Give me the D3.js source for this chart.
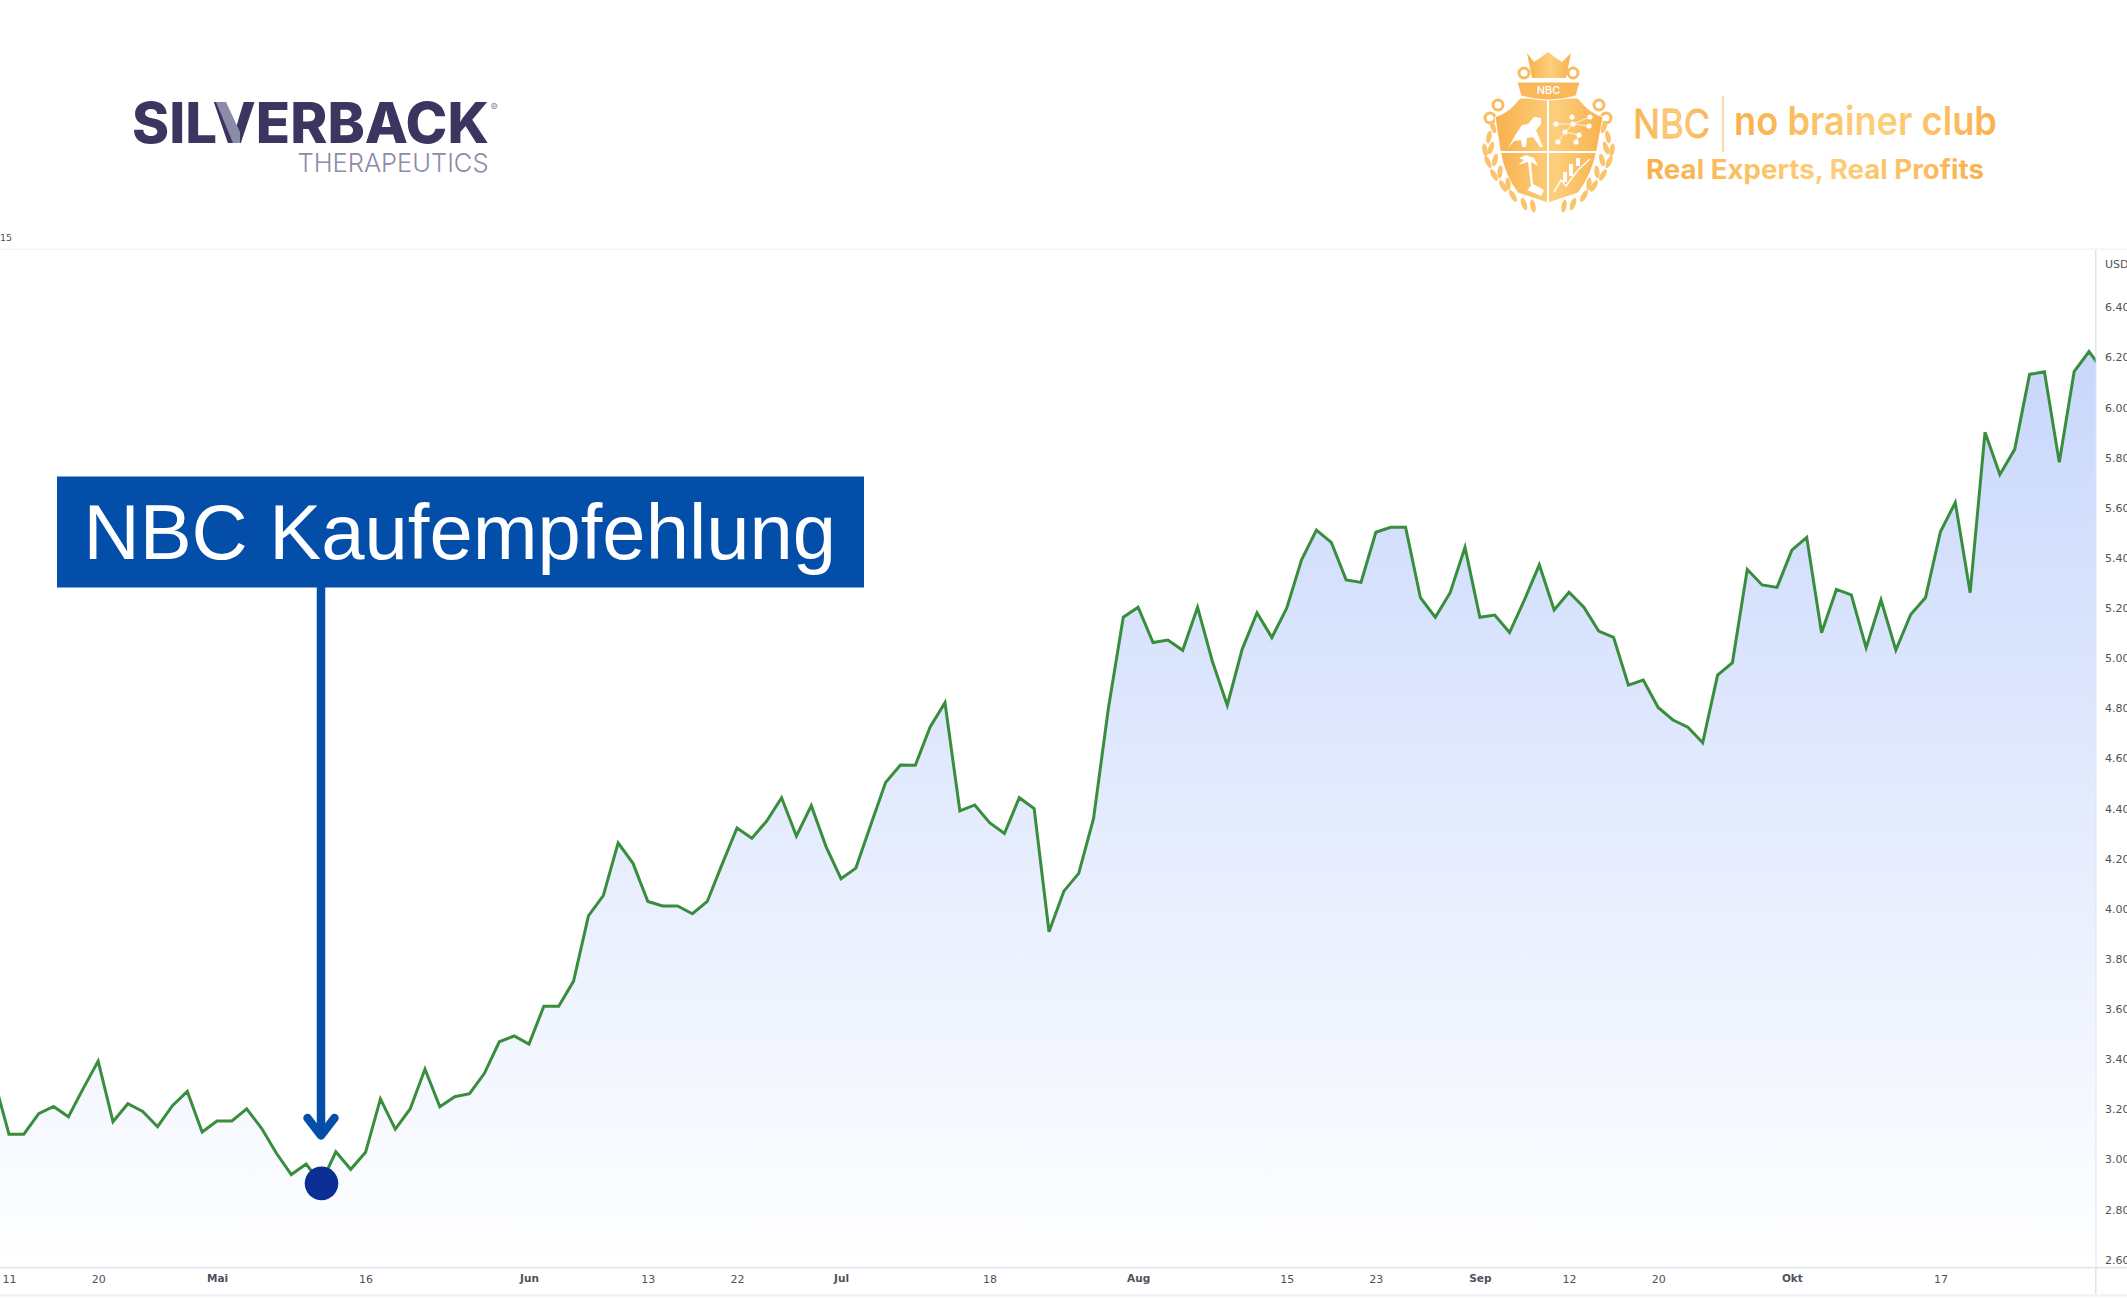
<!DOCTYPE html>
<html lang="en">
<head>
    <meta charset="UTF-8">
    <title>Silverback - NBC Kaufempfehlung</title>
    <script src="https://d3js.org/d3.v7.min.js"></script>
    <style>
        body{ margin: 0; background: white; }
        svg{ display: block; }
        .axis text{ font-family: "DejaVu Sans", sans-serif; font-size: 11px; fill: #4f525c; }
        .axis path, .axis line{ display: none; }
        .axis text.month{ font-weight: bold; font-size: 10.5px; }
    </style>
</head>
<body>
<svg id="canvas" width="2127" height="1300"></svg>
<script>
    // daily closes, first one sits just left of the frame
    let prices = [3.315,
        3.099,3.099,3.181,3.210,3.169,3.282,3.391,3.149,3.221,3.190,
        3.129,3.213,3.270,3.108,3.152,3.152,3.200,3.123,3.023,2.938,
        2.980,2.903,3.029,2.959,3.027,3.240,3.119,3.200,3.359,3.209,
        3.249,3.261,3.342,3.468,3.491,3.459,3.610,3.610,3.710,3.970,
        4.051,4.262,4.180,4.028,4.010,4.010,3.979,4.028,4.177,4.321,
        4.280,4.349,4.442,4.289,4.410,4.246,4.119,4.161,4.333,4.503,
        4.572,4.571,4.724,4.821,4.389,4.413,4.342,4.299,4.442,4.399,
        3.907,4.069,4.140,4.359,4.800,5.162,5.202,5.061,5.071,5.030,
        5.202,4.985,4.811,5.034,5.180,5.081,5.198,5.391,5.510,5.461,
        5.311,5.301,5.501,5.521,5.521,5.240,5.162,5.260,5.441,5.162,
        5.171,5.101,5.231,5.371,5.191,5.262,5.202,5.107,5.082,4.891,
        4.911,4.802,4.752,4.723,4.661,4.931,4.981,5.353,5.291,5.281,
        5.430,5.481,5.100,5.273,5.251,5.040,5.231,5.031,5.173,5.241,
        5.503,5.620,5.260,5.900,5.732,5.832,6.131,6.142,5.780,6.142,
        6.222,6.142];
    let yTicks = [2.6,2.8,3.0,3.2,3.4,3.6,3.8,4.0,4.2,4.4,4.6,4.8,5.0,5.2,5.4,5.6,5.8,6.0,6.2,6.4];
    let xTickDays = [0,6,14,24,35,43,49,56,66,76,86,92,99,105,111,120,130];
    let xTickLabels = ["11","20","Mai","16","Jun","13","22","Jul","18","Aug","15","23","Sep","12","20","Okt","17"];
    let monthLabels = ["Mai","Jun","Jul","Aug","Sep","Okt"];
    let buyDay = 21;
    let bannerText = "NBC Kaufempfehlung";

    let svg = d3.select('svg');
    let frameRight = 2095.5, frameTop = 250, frameBottom = 1267;

    let x = d3.scaleLinear().domain([0,140]).range([9,2089]);
    let y = d3.scaleLinear().domain([2.6,6.4]).range([1259.3,307]);

    let defs = svg.append('defs');
    defs.append('clipPath').attr('id','plotClip').append('rect')
        .attr('x',0).attr('y',frameTop).attr('width',frameRight).attr('height',frameBottom-frameTop);

    let areaGrad = defs.append('linearGradient').attr('id','areaGrad')
        .attr('gradientUnits','userSpaceOnUse').attr('x1',0).attr('x2',0)
        .attr('y1',y(d3.max(prices))).attr('y2',frameBottom);
    areaGrad.append('stop').attr('offset','0%').attr('stop-color','#c8d7fc');
    areaGrad.append('stop').attr('offset','100%').attr('stop-color','#ffffff');

    let goldGrad = defs.append('linearGradient').attr('id','goldGrad');
    goldGrad.append('stop').attr('offset','0%').attr('stop-color','#f8b04c');
    goldGrad.append('stop').attr('offset','55%').attr('stop-color','#fdcf7c');
    goldGrad.append('stop').attr('offset','100%').attr('stop-color','#f9b14e');

    // chart frame
    svg.append('rect').attr('x',0).attr('y',frameTop-1.5).attr('width',2127).attr('height',1.5).attr('fill','#f0f3fa');
    svg.append('rect').attr('x',0).attr('y',frameBottom).attr('width',2127).attr('height',1.5).attr('fill','#e0e3eb');
    svg.append('rect').attr('x',frameRight-0.5).attr('y',frameTop).attr('width',1.5).attr('height',1294-frameTop).attr('fill','#e0e3eb');
    svg.append('rect').attr('x',0).attr('y',1294).attr('width',2127).attr('height',2.5).attr('fill','#f0f3fa');
    svg.append('text').attr('x',0).attr('y',241).attr('font-family','DejaVu Sans').attr('font-size',9.5)
        .attr('fill','#4f525c').text('15');

    // price area and line
    let plot = svg.append('g').attr('clip-path','url(#plotClip)');
    let area = d3.area().x((d,i)=>x(i-1)).y0(frameBottom).y1(d=>y(d));
    let line = d3.line().x((d,i)=>x(i-1)).y(d=>y(d));
    plot.append('path').datum(prices).attr('d',area).attr('fill','url(#areaGrad)');
    plot.append('path').datum(prices).attr('d',line).attr('fill','none')
        .attr('stroke','#388e3c').attr('stroke-width',3).attr('stroke-linejoin','miter');

    // axes
    let yAxis = svg.append('g').attr('class','axis').attr('transform',`translate(${frameRight},0)`)
        .call(d3.axisRight(y).tickValues(yTicks).tickFormat(d3.format('.2f')).tickSize(0).tickPadding(9.5));
    yAxis.selectAll('text').attr('dy','0.35em');
    svg.append('text').attr('x',2105).attr('y',268).attr('font-family','DejaVu Sans').attr('font-size',11)
        .attr('fill','#4f525c').text('USD');

    let xAxis = svg.append('g').attr('class','axis').attr('transform',`translate(0,${frameBottom})`)
        .call(d3.axisBottom(x).tickValues(xTickDays).tickFormat((d,i)=>xTickLabels[i]).tickSize(0).tickPadding(8));
    xAxis.selectAll('text').classed('month',d=>monthLabels.includes(xTickLabels[xTickDays.indexOf(d)]));

    // annotation
    let blue = '#034ea8';
    let buyX = x(buyDay), buyY = y(prices[buyDay+1]);
    svg.append('line').attr('x1',buyX).attr('x2',buyX).attr('y1',587).attr('y2',1135)
        .attr('stroke',blue).attr('stroke-width',8.5);
    svg.append('path').attr('d',`M${buyX-13.5},1118L${buyX},1135.5L${buyX+13.5},1118`).attr('fill','none')
        .attr('stroke',blue).attr('stroke-width',8.5).attr('stroke-linecap','round').attr('stroke-linejoin','round');
    svg.append('circle').attr('cx',buyX+0.5).attr('cy',buyY).attr('r',16.8).attr('fill','#0c2f96');
    svg.append('rect').attr('x',57).attr('y',476.5).attr('width',807).attr('height',111).attr('fill',blue);
    svg.append('text').attr('x',83.5).attr('y',558.5).attr('font-family','Liberation Sans').attr('font-size',77.8)
        .attr('fill','white').text(bannerText);

    // Silverback logo
    let sb = svg.append('g');
    sb.append('text').attr('x',132).attr('y',143).attr('font-family','Inter').attr('font-weight',800)
        .attr('font-size',56).attr('fill','#3d3560').attr('textLength',357).attr('lengthAdjust','spacingAndGlyphs')
        .text('SILVERBACK');
    sb.append('path').attr('d','M216,102L226,102L240,132L240,143L233,143Z').attr('fill','#8b8ca8');
    sb.append('text').attr('x',297.5).attr('y',172).attr('font-family','Inter').attr('font-weight',300)
        .attr('font-size',26).attr('fill','#8a8ca8').attr('textLength',191).attr('lengthAdjust','spacingAndGlyphs')
        .text('THERAPEUTICS');
    sb.append('text').attr('x',490.5).attr('y',111).attr('font-family','Inter').attr('font-size',11)
        .attr('fill','#8a8ca8').text('®');

    // NBC logo
    let nbc = svg.append('g');
    nbc.append('text').attr('x',1633).attr('y',138).attr('font-family','Inter').attr('font-weight',400)
        .attr('font-size',40).attr('fill','url(#goldGrad)').attr('stroke','#f9bb5f').attr('stroke-width',0.8)
        .attr('textLength',77).attr('lengthAdjust','spacingAndGlyphs').text('NBC');
    nbc.append('rect').attr('x',1722.5).attr('y',96).attr('width',1.2).attr('height',56).attr('fill','#f9c069');
    nbc.append('text').attr('x',1734).attr('y',135).attr('font-family','Inter').attr('font-weight',600)
        .attr('font-size',40).attr('fill','url(#goldGrad)').attr('textLength',263).attr('lengthAdjust','spacingAndGlyphs')
        .text('no brainer club');
    nbc.append('text').attr('x',1646).attr('y',179).attr('font-family','Inter').attr('font-weight',700)
        .attr('font-size',26.5).attr('fill','url(#goldGrad)').attr('textLength',338).attr('lengthAdjust','spacingAndGlyphs')
        .text('Real Experts, Real Profits');

    // crest, drawn by hand around its centre line
    let crest = nbc.append('g');
    let gold = 'url(#goldGrad)';
    // crown
    crest.append('path').attr('d','M1527,53L1534,62L1540,58L1548,52L1556,58L1562,62L1571,53L1566,78L1532,78Z').attr('fill',gold);
    // scrolls
    let scrolls = [[1524,73,5],[1573,73,5],[1498,105,5],[1599,105,5],[1490,118,5],[1606,118,5]];
    crest.selectAll('circle.scroll').data(scrolls).enter().append('circle')
        .attr('cx',d=>d[0]).attr('cy',d=>d[1]).attr('r',d=>d[2])
        .attr('fill','none').attr('stroke','#f9bb5f').attr('stroke-width',3);
    // shield
    crest.append('path').attr('d','M1495,117Q1510,112 1520,98L1578,98Q1588,112 1603,117L1597,150Q1592,175 1578,193L1548,203L1518,193Q1504,175 1500,150Z')
        .attr('fill',gold).attr('stroke','white').attr('stroke-width',1);
    crest.append('path').attr('d','M1548,98V202M1501,152H1596').attr('stroke','white').attr('stroke-width',2);
    // band
    crest.append('path').attr('d','M1517,82L1580,82L1576,96Q1548,104 1521,96Z').attr('fill','#f9b85a').attr('stroke','white').attr('stroke-width',1);
    crest.append('text').attr('x',1548.5).attr('y',94).attr('text-anchor','middle').attr('font-family','Inter')
        .attr('font-size',11).attr('font-weight',500).attr('fill','white').text('NBC');
    // bull
    crest.append('path').attr('d','M1508,148L1516,134L1522,125L1528,124L1534,117L1541,118L1541,124L1536,130L1543,147L1540,147L1533,137L1527,138L1526,147L1522,147L1521,140L1514,141Z').attr('fill','white');
    // network
    let people = [[1556,124],[1573,124],[1590,117],[1572,117],[1589,126],[1565,132],[1579,135],[1558,142],[1576,142]];
    crest.append('path').attr('d','M1556,124L1573,124L1590,117M1573,124L1565,132L1558,142M1565,132L1579,135L1576,142M1573,124L1589,126')
        .attr('stroke','white').attr('stroke-width',0.8).attr('fill','none');
    crest.selectAll('circle.person').data(people).enter().append('circle')
        .attr('cx',d=>d[0]).attr('cy',d=>d[1]).attr('r',2.6).attr('fill','white');
    // palms
    crest.append('path').attr('d','M1528,162L1531,186L1527,190L1541,196L1544,190L1533,184L1531,162L1538,166L1534,158L1526,155L1519,158L1524,160L1518,165Z').attr('fill','white');
    // bars and trend
    crest.append('path').attr('d','M1554,192L1561,180L1566,186L1578,170L1590,159').attr('stroke','white').attr('stroke-width',1.5).attr('fill','none');
    crest.append('path').attr('d','M1565,182V172M1571,176V164M1578,166V158').attr('stroke','white').attr('stroke-width',4).attr('fill','none');
    // laurel
    let leaves = [[1489,137,12],[1493,127,-20],[1485,150,-10],[1491,148,20],[1488,162,-25],[1495,160,15],
                  [1494,175,-30],[1500,172,5],[1503,186,-30],[1508,184,-5],[1513,196,-30],[1524,204,-20],[1533,206,-10]];
    let laurelColor = '#fbc36e';
    leaves.forEach(function(l){
        [1,-1].forEach(function(side){
            let cx = side===1 ? l[0] : 2*1548.5-l[0];
            crest.append('ellipse').attr('cx',cx).attr('cy',l[1]).attr('rx',2.6).attr('ry',6.5)
                .attr('fill',laurelColor).attr('transform',`rotate(${side*l[2]} ${cx} ${l[1]})`);
        });
    });
</script>
</body>
</html>
